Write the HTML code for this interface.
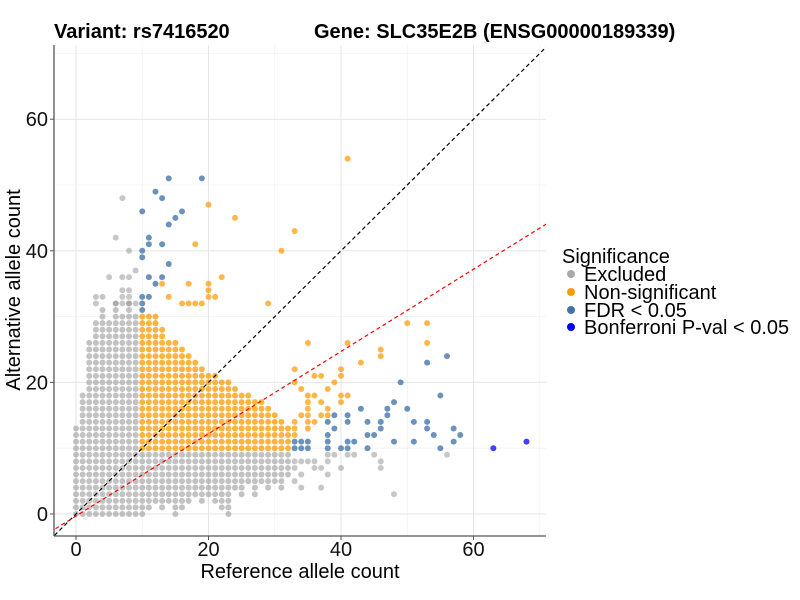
<!DOCTYPE html>
<html><head><meta charset="utf-8"><style>
body{margin:0;background:#fff;}
svg{display:block;font-family:"Liberation Sans",sans-serif;}
</style></head><body>
<svg id="chart" width="800" height="600">
<defs><clipPath id="clip"><rect x="54" y="45" width="492" height="491"/></clipPath></defs>
<g id="grid"></g>
<g id="points" clip-path="url(#clip)"></g>
<g id="lines" clip-path="url(#clip)"></g>
<line x1="54" y1="45" x2="54" y2="536" stroke="#555" stroke-width="1.3"/>
<line x1="54" y1="536" x2="546" y2="536" stroke="#555" stroke-width="1.3"/>
<g id="ticks"></g>
<text x="54" y="38" font-size="20" font-weight="bold">Variant: rs7416520</text>
<text x="314" y="38" font-size="20" font-weight="bold">Gene: SLC35E2B (ENSG00000189339)</text>
<text x="300" y="578" font-size="20" text-anchor="middle">Reference allele count</text>
<text transform="translate(20,290) rotate(-90)" font-size="20" text-anchor="middle">Alternative allele count</text>
<g>
<text x="562" y="263" font-size="20">Significance</text>
<g><circle cx="571" cy="274" r="4" fill="#aaaaaa"/><text x="584" y="281" font-size="20">Excluded</text></g>
<g><circle cx="571" cy="292" r="4" fill="#ff9900"/><text x="584" y="299" font-size="20">Non-significant</text></g>
<g><circle cx="571" cy="310" r="4" fill="#4472a8"/><text x="584" y="317" font-size="20">FDR &lt; 0.05</text></g>
<g><circle cx="571" cy="327" r="4" fill="#0000ff"/><text x="584" y="334" font-size="20">Bonferroni P-val &lt; 0.05</text></g>
</g>
</svg>
<script>
// dense grey columns (x, ymin, ymax)
const greyColX = [0,1,2,3,4,5,6,7,8,9,10,11,12,13,14,15,16,17,18,19,20,21,22,23,24,25,26,27,28,29,30,31,32];
const greyColMin = [0,0,0,0,0,0,0,0,0,0,0,1,2,1,2,0,1,2,3,2,3,2,1,0,4,3,5,3,5,4,5,4,6];
const greyColMax = [13,18,26,29,31,29,32,30,32,30,9,9,9,9,9,9,9,9,9,9,9,9,9,9,9,9,9,9,9,9,9,9,9];
// sparse grey points
const greyX = [7,6,8,9,5,7,8,7,8,3,4,7,8,3,6,7,8,9,38,39,41,42,45,56,33,34,35,36,38,46,33,36,37,40,46,34,38,33,34,37,48];
const greyY = [48,42,40,37,36,36,36,34,34,33,33,33,33,32,32,32,32,32,9,9,9,9,9,9,8,8,8,8,8,8,7,7,7,7,7,6,6,5,4,4,3];
// dense orange columns (x from 10..32, y from 10 to max)
const orangeColX = [10,11,12,13,14,15,16,17,18,19,20,21,22,23,24,25,26,27,28,29,30,31,32];
const orangeColMax = [30,30,30,28,26,26,25,24,23,22,21,21,20,20,19,18,18,17,17,16,15,14,13];
// sparse orange points
const orangeX = [13,17,20,20,20,21,22,29,18,20,24,33,31,14,16,17,18,19,41,53,33,33,35,41,50,53,46,46,43,40,40,36,37,39,34,38,35,36,40,41,35,37,40,35,38,34,35,37,38,33,35,36,33,35,33];
const orangeY = [35,35,35,34,33,33,36,32,41,47,45,43,40,33,32,32,32,32,54,29,22,20,26,26,29,26,25,24,23,22,21,21,21,20,19,19,18,18,18,18,17,17,17,16,16,15,15,15,15,14,14,14,13,13,12];
// FDR points
const fdrX = [14,19,12,13,10,16,15,14,11,11,13,10,10,14,11,13,12,10,11,10,10,33,34,35,33,34,35,38,40,41,44,55,38,41,42,48,51,57,38,39,38,39,41,41,43,44,44,45,46,46,47,47,48,49,50,51,53,53,54,55,57,58,53,56];
const fdrY = [51,51,49,48,46,46,45,44,42,41,41,40,39,38,36,36,35,33,33,32,31,11,11,11,10,10,10,10,10,10,10,10,11,11,11,11,11,11,12,13,14,15,15,14,16,14,12,12,14,13,16,15,17,20,16,14,14,13,12,18,13,12,23,24];
// Bonferroni points
const bonfX = [63,68];
const bonfY = [10,11];
const xTicks = [0,20,40,60];
const yTicks = [0,20,40,60];
const xMinor = [10,30,50,70];
const yMinor = [10,30,50,70];

const NS='http://www.w3.org/2000/svg';
const X = v => 76 + v*6.625;
const Y = v => 514 - v*6.58;
const grid=document.getElementById('grid'), pts=document.getElementById('points'), lines=document.getElementById('lines'), ticks=document.getElementById('ticks');
function mk(tag,attrs,parent){const e=document.createElementNS(NS,tag);for(const k in attrs)e.setAttribute(k,attrs[k]);parent.appendChild(e);return e;}
xMinor.forEach(v=>{const e=mk('line',{x1:X(v),x2:X(v),y1:45,y2:536,stroke:'#f2f2f2','stroke-width':0.8},grid);

});
yMinor.forEach(v=>{const e=mk('line',{x1:54,x2:546,y1:Y(v),y2:Y(v),stroke:'#f2f2f2','stroke-width':0.8},grid);

});
xTicks.forEach(v=>{const e=mk('line',{x1:X(v),x2:X(v),y1:45,y2:536,stroke:'#e6e6e6','stroke-width':1},grid);


const t=mk('text',{x:X(v),y:556,'font-size':20,'text-anchor':'middle',fill:'#111'},ticks);t.textContent=v;


mk('line',{x1:X(v),x2:X(v),y1:536,y2:540,stroke:'#555'},ticks);});
yTicks.forEach(v=>{const e=mk('line',{x1:54,x2:546,y1:Y(v),y2:Y(v),stroke:'#e6e6e6','stroke-width':1},grid);


const t=mk('text',{x:48,y:Y(v)+7,'font-size':20,'text-anchor':'end',fill:'#111'},ticks);t.textContent=v;


mk('line',{x1:50,x2:54,y1:Y(v),y2:Y(v),stroke:'#555'},ticks);});
function dot(x,y,fill,op,name){const c=mk('circle',{cx:X(x),cy:Y(y),r:3,fill:fill,'fill-opacity':op},pts);

}
greyColX.forEach((x,i)=>{for(let y=greyColMin[i];y<=greyColMax[i];y++)dot(x,y,'#999999',0.6,'point-excluded');});
greyX.forEach((x,i)=>dot(x,greyY[i],'#999999',0.55,'point-excluded'));
orangeColX.forEach((x,i)=>{for(let y=10;y<=orangeColMax[i];y++)dot(x,y,'#ff9900',0.75,'point-non-significant');});
orangeX.forEach((x,i)=>dot(x,orangeY[i],'#ff9900',0.7,'point-non-significant'));
fdrX.forEach((x,i)=>dot(x,fdrY[i],'#3a6ea5',0.75,'point-fdr'));
bonfX.forEach((x,i)=>dot(x,bonfY[i],'#0000ff',0.75,'point-bonferroni'));
const l1=mk('line',{x1:X(-4),y1:Y(-4),x2:X(75),y2:Y(75),stroke:'#000','stroke-width':1.2,'stroke-dasharray':'4,3'},lines);


const l2=mk('line',{x1:X(-4),y1:Y(-4*0.625-0.3),x2:X(75),y2:Y(75*0.625-0.3),stroke:'#ff0000','stroke-width':1.2,'stroke-dasharray':'4,3'},lines);


</script>
</body></html>
